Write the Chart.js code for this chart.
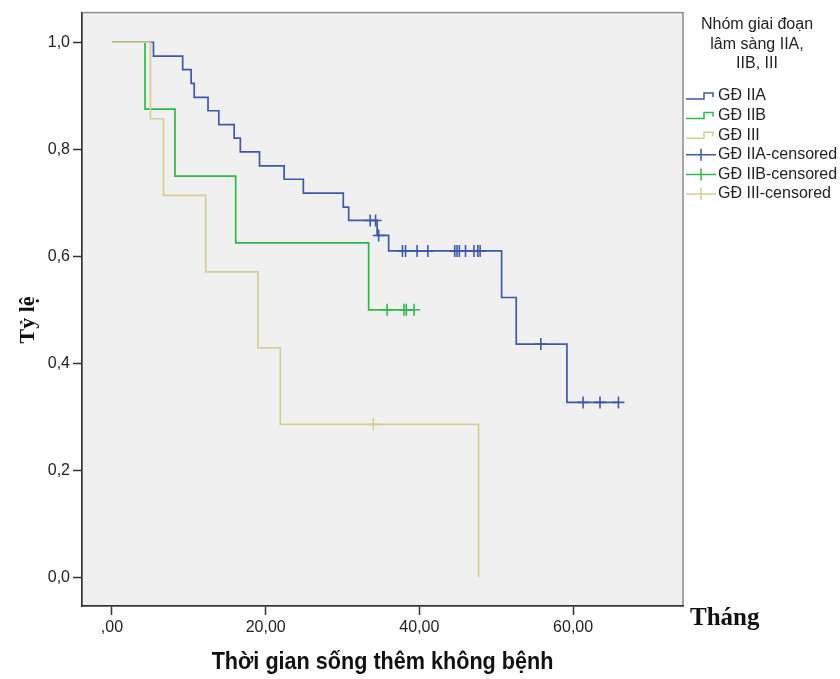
<!DOCTYPE html>
<html>
<head>
<meta charset="utf-8">
<script src="https://cdn.jsdelivr.net/npm/chart.js@4.4.0/dist/chart.umd.min.js"></script>
<style>
  html, body { margin: 0; padding: 0; background: #fff; }
</style>
</head>
<body>
<canvas id="km" width="840" height="679"></canvas>
<script>
// Kaplan-Meier curves (months, survival)
const xTicks = [0, 20, 40, 60];
const xTickLabels = [',00', '20,00', '40,00', '60,00'];
const yTicks = [0, 0.2, 0.4, 0.6, 0.8, 1.0];
const yTickLabels = ['0,0', '0,2', '0,4', '0,6', '0,8', '1,0'];

const groups = ['GĐ IIA', 'GĐ IIB', 'GĐ III'];
const legendTitle = ['Nhóm giai đoạn', 'lâm sàng IIA,', 'IIB, III'];

const iiaTimes = [0, 5.4, 9.2, 10.3, 10.7, 12.5, 13.9, 15.9, 16.7, 19.2, 22.4, 24.9, 30.1, 30.8, 34.5, 36.0, 50.7, 52.6, 59.2, 65.9];
const iiaSurv  = [1, .974, .949, .923, .897, .872, .846, .821, .795, .769, .744, .718, .692, .667, .639, .610, .523, .436, .327, .327];
const iiaCensTimes = [33.6, 34.3, 34.7, 37.8, 38.2, 39.7, 41.1, 44.6, 44.9, 45.2, 46.0, 47.1, 47.6, 47.9, 55.8, 61.3, 63.5, 65.9];
const iiaCensSurv  = [.667, .667, .639, .610, .610, .610, .610, .610, .610, .610, .610, .610, .610, .610, .436, .327, .327, .327];

const iibTimes = [0, 4.3, 8.2, 16.1, 33.4, 39.3];
const iibSurv  = [1, .875, .75, .625, .5, .5];
const iibCensTimes = [35.8, 38.0, 38.3, 39.3];
const iibCensSurv  = [.5, .5, .5, .5];

const iiiTimes = [0, 5.0, 6.7, 12.2, 19.0, 21.9, 47.7];
const iiiSurv  = [1, .857, .714, .571, .429, .286, 0];
const iiiCensTimes = [34.0];
const iiiCensSurv  = [.286];

const colors = ['#3e58ac', '#2eb848', '#d3ce97'];
const pts = (ts, ss) => ts.map((t, i) => ({ x: t, y: ss[i] }));

const curves = [[iiaTimes, iiaSurv], [iibTimes, iibSurv], [iiiTimes, iiiSurv]];
const cens = [[iiaCensTimes, iiaCensSurv], [iibCensTimes, iibCensSurv], [iiiCensTimes, iiiCensSurv]];

const datasets = [];
curves.forEach((c, i) => datasets.push({
  label: groups[i], data: pts(c[0], c[1]), stepped: 'before',
  borderColor: colors[i], borderWidth: 1.7, pointRadius: 0, fill: false, order: 2 - i
}));
cens.forEach((c, i) => datasets.push({
  label: groups[i] + '-censored', data: pts(c[0], c[1]), showLine: false,
  pointStyle: 'cross', pointRadius: 6, pointBorderWidth: 1.6,
  pointBorderColor: colors[i], borderColor: colors[i], order: -1
}));

// plot background + light frame, titles and legend
const frame = {
  id: 'frame',
  beforeDraw(chart) {
    const { ctx, chartArea: a } = chart;
    ctx.save();
    ctx.fillStyle = '#f0f0f0';
    ctx.fillRect(a.left, a.top, a.right - a.left, a.bottom - a.top);
    ctx.strokeStyle = '#8c8c8c'; ctx.lineWidth = 1.5;
    ctx.strokeRect(a.left, a.top, a.right - a.left, a.bottom - a.top);
    ctx.restore();
  },
  afterDraw(chart) {
    const { ctx, chartArea: a } = chart;
    ctx.save();
    ctx.fillStyle = '#111';
    // y title
    ctx.translate(28, 320); ctx.rotate(-Math.PI / 2);
    ctx.font = 'bold 22px "Liberation Serif", "Times New Roman", serif';
    ctx.textAlign = 'center'; ctx.textBaseline = 'middle';
    ctx.fillText('Tỷ lệ', 0, 0);
    ctx.setTransform(1, 0, 0, 1, 0, 0);
    // x title, narrow
    ctx.translate((a.left + a.right) / 2, 662); ctx.scale(0.9, 1);
    ctx.font = 'bold 24px "Liberation Sans", Arial, sans-serif';
    ctx.fillText('Thời gian sống thêm không bệnh', 0, 0);
    ctx.setTransform(1, 0, 0, 1, 0, 0);
    // unit label
    ctx.font = 'bold 25px "Liberation Serif", "Times New Roman", serif';
    ctx.textAlign = 'left'; ctx.textBaseline = 'alphabetic';
    ctx.fillText('Tháng', 690, 625);
    // legend
    ctx.fillStyle = '#222';
    ctx.font = '16px "Liberation Sans", Arial, sans-serif';
    ctx.textAlign = 'center'; ctx.textBaseline = 'middle';
    legendTitle.forEach((t, i) => ctx.fillText(t, 757, 25 + i * 19.5));
    ctx.textAlign = 'left';
    const labels = groups.concat(groups.map(g => g + '-censored'));
    labels.forEach((t, i) => {
      const y = 96 + i * 19.6;
      const col = colors[i % 3];
      ctx.strokeStyle = col; ctx.lineWidth = 1.5;
      ctx.beginPath();
      if (i < 3) {
        ctx.moveTo(686, y + 3); ctx.lineTo(704, y + 3); ctx.lineTo(704, y - 3);
        ctx.lineTo(713, y - 3); ctx.lineTo(713, y + 1);
      } else {
        ctx.moveTo(686, y); ctx.lineTo(716, y);
        ctx.moveTo(701, y - 6); ctx.lineTo(701, y + 6);
      }
      ctx.stroke();
      ctx.fillText(t, 718, y);
    });
    ctx.restore();
  }
};

new Chart(document.getElementById('km'), {
  type: 'line',
  data: { datasets },
  options: {
    responsive: false,
    animation: false,
    layout: { padding: { left: 0, top: 5, right: 157, bottom: 0 } },
    plugins: { legend: { display: false }, tooltip: { enabled: false } },
    scales: {
      x: {
        type: 'linear', min: -3.9, max: 74.3,
        afterBuildTicks: s => { s.ticks = xTicks.map(v => ({ value: v })); },
        afterFit: s => { s.height = 73; },
        ticks: {
          padding: 3, color: '#222', font: { family: 'Liberation Sans', size: 16 },
          callback: v => xTickLabels[xTicks.indexOf(v)]
        },
        grid: { drawOnChartArea: false, drawTicks: true, tickLength: 9, tickColor: '#333', tickWidth: 1.5 },
        border: { display: true, color: '#333', width: 1.5 }
      },
      y: {
        type: 'linear', min: -0.0535, max: 1.0554,
        afterBuildTicks: s => { s.ticks = yTicks.map(v => ({ value: v })); },
        afterFit: s => { s.width = 82; },
        ticks: {
          padding: 3, color: '#222', font: { family: 'Liberation Sans', size: 16 },
          callback: v => yTickLabels[yTicks.indexOf(v)]
        },
        grid: { drawOnChartArea: false, drawTicks: true, tickLength: 9, tickColor: '#333', tickWidth: 1.5 },
        border: { display: true, color: '#333', width: 1.5 }
      }
    }
  },
  plugins: [frame]
});
</script>
</body>
</html>
